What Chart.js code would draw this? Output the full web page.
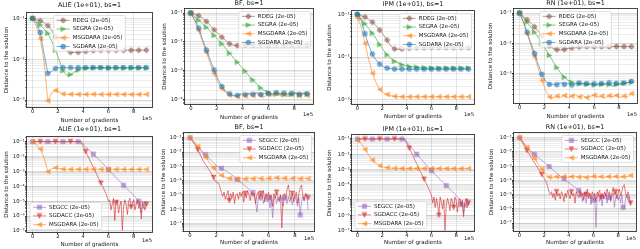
<!DOCTYPE html>
<html><head><meta charset="utf-8">
<script src="https://cdn.jsdelivr.net/npm/chart.js@4.4.1/dist/chart.umd.min.js"></script>
<style>
html,body{margin:0;padding:0;background:#fff;width:640px;height:249px;overflow:hidden;position:relative;}
.cell{position:absolute;}
canvas{display:block;}
</style></head><body>
<script>
// ---------- x grids (units of 1e5 gradients) ----------
const X_TOP = [0,0.3,0.6,0.9,1.2,1.5,1.8,2.1,2.4,2.7,3.0,3.3,3.6,3.9,4.2,4.5,4.8,5.1,5.4,5.7,6.0,6.3,6.6,6.9,7.2,7.5,7.8,8.1,8.4,8.7,9.0];
const X_BOT = [0,0.1,0.2,0.3,0.4,0.5,0.6,0.7,0.8,0.9,1,1.1,1.2,1.3,1.4,1.5,1.6,1.7,1.8,1.9,2,2.1,2.2,2.3,2.4,2.5,2.6,2.7,2.8,2.9,3,3.1,3.2,3.3,3.4,3.5,3.6,3.7,3.8,3.9,4,4.1,4.2,4.3,4.4,4.5,4.6,4.7,4.8,4.9,5,5.1,5.2,5.3,5.4,5.5,5.6,5.7,5.8,5.9,6,6.1,6.2,6.3,6.4,6.5,6.6,6.7,6.8,6.9,7,7.1,7.2,7.3,7.4,7.5,7.6,7.7,7.8,7.9,8,8.1,8.2,8.3,8.4,8.5,8.6,8.7,8.8,8.9,9];
const X_TICKS = [0,2,4,6,8];

// ---------- top row: ALIE ----------
const ALIE_RDEG = [0.1,0.093,0.087,0.078,0.066,0.051,0.035,0.025,0.019,0.016,0.0148,0.0148,0.0148,0.0151,0.0155,0.0158,0.0162,0.0162,0.0166,0.0166,0.0166,0.0166,0.0166,0.0166,0.0165,0.0166,0.0166,0.0166,0.0166,0.0166,0.0167];
const ALIE_SEGRA = [0.1,0.083,0.069,0.055,0.043,0.028,0.0166,0.0095,0.0052,0.004,0.0042,0.0048,0.0054,0.0058,0.006,0.0061,0.0061,0.0061,0.0062,0.0061,0.0061,0.0062,0.0061,0.0061,0.0061,0.0062,0.0061,0.0061,0.0061,0.0062,0.0061];
const ALIE_MSGDARA = [0.1,0.063,0.032,0.0089,0.00095,0.0015,0.00174,0.00158,0.00141,0.00138,0.00139,0.00138,0.00138,0.00137,0.00138,0.00138,0.00139,0.00138,0.00138,0.00137,0.00138,0.00138,0.00138,0.00139,0.00138,0.00138,0.00137,0.00138,0.00138,0.00138,0.00138];
const ALIE_SGDARA = [0.1,0.076,0.045,0.0138,0.0045,0.005,0.0059,0.0063,0.0062,0.0062,0.0062,0.0061,0.0062,0.0062,0.0062,0.0061,0.0062,0.0062,0.0062,0.0062,0.0061,0.0062,0.0062,0.0062,0.0062,0.0061,0.0062,0.0062,0.0062,0.0062,0.0062];
// ---------- top row: BF ----------
const BF_RDEG = [0.1,0.091,0.081,0.066,0.051,0.037,0.026,0.0195,0.0145,0.011,0.0085,0.0076,0.0074,0.0078,0.0079,0.008,0.0079,0.008,0.0081,0.008,0.0079,0.008,0.008,0.0081,0.008,0.0079,0.008,0.008,0.0081,0.008,0.008];
const BF_SEGRA = [0.1,0.074,0.056,0.043,0.032,0.023,0.0166,0.012,0.0085,0.0059,0.004,0.00275,0.00195,0.00135,0.00095,0.00066,0.00047,0.00034,0.00025,0.0002,0.000174,0.000158,0.000151,0.000158,0.000145,0.000162,0.000148,0.000158,0.000141,0.000166,0.000151];
const BF_MSGDARA = [0.1,0.054,0.025,0.01,0.0043,0.0018,0.00079,0.00038,0.000234,0.00017,0.000141,0.000132,0.000126,0.000145,0.000132,0.000151,0.000135,0.000158,0.000138,0.000126,0.000148,0.000132,0.000158,0.000138,0.000148,0.000126,0.000145,0.000158,0.000135,0.000148,0.000138];
const BF_SGDARA = [0.1,0.06,0.03,0.0126,0.0052,0.00234,0.00105,0.0005,0.00028,0.00019,0.000155,0.000138,0.000138,0.000158,0.000145,0.000166,0.000151,0.000174,0.000148,0.000162,0.000158,0.000145,0.00017,0.000151,0.000166,0.000141,0.000162,0.000174,0.000151,0.000166,0.000158];
// ---------- top row: IPM ----------
const IPM_RDEG = [0.1,0.093,0.087,0.076,0.066,0.054,0.043,0.033,0.025,0.018,0.0155,0.0151,0.0155,0.0158,0.0162,0.0162,0.0166,0.0166,0.0165,0.0166,0.0166,0.0166,0.0167,0.0166,0.0166,0.0166,0.0165,0.0166,0.0166,0.0166,0.0166];
const IPM_SEGRA = [0.1,0.079,0.06,0.047,0.036,0.027,0.0195,0.0145,0.0112,0.0093,0.0079,0.0072,0.0066,0.0063,0.006,0.0059,0.0058,0.0056,0.0056,0.0055,0.0055,0.0055,0.0055,0.0055,0.0055,0.0055,0.0055,0.0055,0.0055,0.0055,0.0055];
const IPM_MSGDARA = [0.083,0.05,0.021,0.0089,0.0042,0.0025,0.00174,0.00145,0.00132,0.00123,0.0012,0.00117,0.00117,0.00117,0.00117,0.00117,0.00117,0.00117,0.00117,0.00117,0.00117,0.00117,0.00117,0.00117,0.00117,0.00117,0.00117,0.00117,0.00117,0.00117,0.00117];
const IPM_SGDARA = [0.1,0.072,0.035,0.019,0.0117,0.0085,0.0068,0.0059,0.0055,0.0054,0.0052,0.0052,0.0052,0.0052,0.0052,0.0052,0.0052,0.0052,0.0052,0.0052,0.0052,0.0052,0.0052,0.0052,0.0052,0.0052,0.0052,0.0052,0.0052,0.0052,0.0052];
// ---------- top row: RN ----------
const RN_RDEG = [0.1,0.079,0.06,0.047,0.035,0.025,0.018,0.0123,0.0083,0.0068,0.0062,0.006,0.0063,0.0068,0.0071,0.0074,0.0076,0.0078,0.0078,0.0078,0.0078,0.0079,0.0078,0.0078,0.0078,0.0078,0.0079,0.0078,0.0078,0.0078,0.0078];
const RN_SEGRA = [0.1,0.071,0.05,0.035,0.0234,0.0155,0.01,0.0063,0.004,0.0025,0.00158,0.00105,0.00076,0.0006,0.00052,0.00048,0.00046,0.00048,0.00044,0.00047,0.00042,0.00046,0.00044,0.00047,0.00043,0.00038,0.00044,0.00046,0.00048,0.0005,0.00052];
const RN_MSGDARA = [0.1,0.05,0.021,0.0087,0.0036,0.00148,0.0006,0.000275,0.00017,0.000158,0.000182,0.000166,0.00019,0.000162,0.000182,0.0002,0.00017,0.000186,0.000162,0.000178,0.000195,0.000166,0.000182,0.000158,0.000186,0.00017,0.00019,0.000162,0.000182,0.000174,0.00022];
const RN_SGDARA = [0.1,0.052,0.0234,0.0105,0.0046,0.002,0.00095,0.00056,0.00044,0.00045,0.00043,0.0005,0.00044,0.00048,0.00042,0.00045,0.00049,0.00044,0.00047,0.00043,0.00046,0.00042,0.00047,0.00044,0.0005,0.00045,0.00048,0.00044,0.00049,0.0005,0.00055];

// ---------- bottom row: ALIE ----------
const ALIE_SEGCC = [0.1,0.1,0.1,0.1,0.1,0.1,0.1,0.1,0.1,0.1,
 0.1,0.1,0.1,0.1,0.1,0.1,0.1,0.1,0.1,0.1,
 0.1,0.1,0.1,0.1,0.1,0.1,0.1,0.1,0.1,0.1,
 0.1,0.1,0.1,0.1,0.1,0.1,0.1,0.1,0.1,0.083,
 0.068,0.055,0.046,0.037,0.031,0.025,0.021,0.0174,0.0145,0.0117,
 0.0098,0.0081,0.0068,0.0056,0.0046,0.0037,0.003,0.0025,0.002,0.00162,
 0.00132,0.00107,0.00087,0.00071,0.00058,0.00047,0.00038,0.00032,0.00026,0.00021,
 0.000174,0.000145,0.000117,9.8e-5,7.9e-5,6.6e-5,5.4e-5,4.5e-5,3.6e-5,3.0e-5,
 2.5e-5,2.0e-5,1.66e-5,1.35e-5,1.0e-5,5.0e-6,1.6e-6,6.3e-6,3.2e-6,1.0e-5,
 5.0e-6];
const ALIE_SGDACC = [0.1,0.1,0.1,0.1,0.1,0.1,0.1,0.1,0.1,0.1,
 0.1,0.1,0.1,0.1,0.1,0.1,0.1,0.1,0.1,0.1,
 0.1,0.1,0.1,0.1,0.1,0.1,0.1,0.1,0.1,0.1,
 0.1,0.1,0.1,0.1,0.1,0.1,0.1,0.1,0.1,0.071,
 0.047,0.032,0.021,0.0141,0.0095,0.0063,0.0042,0.0028,0.0019,0.00126,
 0.00083,0.00056,0.00038,0.00025,0.000166,0.000112,7.6e-5,5.0e-5,3.2e-5,1.78e-5,
 1.0e-5,1.26e-5,2.5e-6,6.3e-6,1.58e-5,5.0e-7,7.9e-6,1.26e-5,1.58e-6,5.0e-6,
 1.0e-5,1.12e-7,4.0e-6,1.26e-5,6.3e-6,1.26e-6,1.0e-5,1.58e-5,4.0e-6,7.9e-6,
 1.26e-5,2.5e-6,6.3e-6,1.26e-5,3.2e-6,7.9e-6,6.3e-7,1.0e-5,5.0e-6,2.5e-6,
 6.3e-6];
// ---------- bottom row: BF ----------
const BF_SEGCC = [0.1,0.079,0.063,0.05,0.04,0.032,0.025,0.02,0.0158,0.0126,
 0.01,0.0079,0.0063,0.005,0.0041,0.0033,0.0027,0.0022,0.00178,0.00145,
 0.00117,0.00102,0.00091,0.00081,0.00072,0.00065,0.00056,0.0005,0.00044,0.00038,
 0.00033,0.00029,0.000245,0.00021,0.000174,0.000145,0.000123,0.000105,8.7e-5,7.4e-5,
 6.2e-5,5.2e-5,4.4e-5,3.6e-5,3.0e-5,2.5e-5,2.1e-5,1.78e-5,1.48e-5,1.26e-5,
 3.2e-6,6.3e-7,5.0e-6,1.0e-5,4.0e-6,7.9e-6,2.5e-6,6.3e-6,1.0e-5,3.2e-6,
 6.3e-6,1.26e-6,5.0e-6,2.5e-7,4.0e-6,7.9e-6,2.5e-6,6.3e-6,3.2e-6,1.0e-5,
 4.0e-6,1.58e-6,6.3e-6,5.0e-6,2.5e-6,7.9e-6,3.2e-6,6.3e-6,2.0e-6,5.0e-6,
 1.0e-5,4.0e-6,1.58e-6,6.3e-6,4.0e-7,3.2e-6,7.9e-6,4.0e-6,1.0e-5,1.26e-5,
 1.0e-6];
const BF_SGDACC = [0.1,0.074,0.055,0.041,0.03,0.022,0.0145,0.0093,0.006,0.0039,
 0.0025,0.00182,0.00132,0.00095,0.00069,0.0005,0.00035,0.00024,0.000166,0.000115,
 7.9e-5,7.1e-5,6.3e-5,3.2e-5,1.41e-5,7.9e-6,1.58e-5,5.0e-6,1.0e-5,2.0e-5,
 4.0e-6,1.26e-5,6.3e-6,1.58e-5,2.5e-6,1.0e-5,1.26e-5,5.0e-6,1.58e-5,7.9e-6,
 1.58e-5,3.2e-6,1.26e-5,6.3e-6,2.0e-5,1.0e-5,4.0e-6,1.58e-5,7.9e-6,1.26e-5,
 2.5e-6,1.0e-5,1.58e-5,5.0e-6,1.26e-5,6.3e-6,2.0e-5,3.2e-6,1.26e-5,7.9e-6,
 1.58e-5,5.0e-6,1.0e-5,1.58e-6,1.26e-5,6.3e-6,1.58e-5,7.9e-6,4.0e-6,1.0e-5,
 5.0e-8,7.9e-6,1.26e-5,6.3e-6,2.5e-5,5.0e-5,1.0e-5,5.0e-6,1.26e-5,3.2e-6,
 1.0e-5,1.58e-5,2.5e-6,1.26e-5,3.2e-5,5.0e-5,1.0e-5,4.0e-6,1.26e-5,7.9e-6,
 6.3e-6];
// ---------- bottom row: IPM ----------
const IPM_SEGCC = [0.1,0.1,0.1,0.1,0.1,0.1,0.1,0.1,0.1,0.1,
 0.1,0.1,0.1,0.1,0.1,0.1,0.1,0.1,0.1,0.1,
 0.1,0.1,0.1,0.1,0.1,0.1,0.1,0.1,0.1,0.1,
 0.1,0.1,0.1,0.1,0.1,0.1,0.1,0.1,0.1,0.079,
 0.063,0.05,0.04,0.032,0.025,0.02,0.0158,0.0126,0.01,0.0081,
 0.0066,0.0054,0.0044,0.0035,0.0029,0.0023,0.0019,0.00155,0.00126,0.00102,
 0.00083,0.00068,0.00055,0.00046,0.00038,0.00032,0.00026,0.00022,0.000182,0.000151,
 0.000126,0.000105,8.7e-5,7.2e-5,6.0e-5,5.0e-5,4.2e-5,3.5e-5,2.9e-5,2.4e-5,
 2.0e-5,1.58e-5,1.26e-5,1.0e-5,5.0e-6,7.9e-6,1.26e-6,6.3e-6,3.2e-6,1.26e-5,
 5.0e-6];
const IPM_SGDACC = [0.1,0.1,0.1,0.1,0.1,0.1,0.1,0.1,0.1,0.1,
 0.1,0.1,0.1,0.1,0.1,0.1,0.1,0.1,0.1,0.1,
 0.1,0.1,0.1,0.1,0.1,0.1,0.1,0.1,0.1,0.1,
 0.1,0.1,0.1,0.1,0.1,0.1,0.1,0.1,0.1,0.071,
 0.05,0.035,0.025,0.0178,0.012,0.0079,0.0052,0.0035,0.0024,0.00158,
 0.00107,0.00072,0.0005,0.00034,0.00023,0.000158,0.000107,7.2e-5,5.0e-5,3.2e-5,
 2.0e-5,6.3e-6,1.58e-5,3.2e-6,1.26e-5,5.0e-6,1.0e-6,1.58e-5,7.9e-6,2.5e-6,
 1.0e-5,1.0e-7,5.0e-6,1.26e-5,6.3e-6,2.0e-6,1.26e-5,7.9e-6,3.2e-6,1.58e-5,
 1.0e-5,1.58e-6,7.9e-6,1.26e-5,4.0e-6,1.0e-5,7.9e-7,6.3e-6,1.26e-5,3.2e-6,
 6.3e-6];
// ---------- bottom row: RN ----------
const RN_SEGCC = [0.1,0.076,0.059,0.045,0.035,0.026,0.02,0.0166,0.0138,0.0117,
 0.01,0.0083,0.0069,0.0059,0.0049,0.0042,0.0035,0.003,0.0026,0.0022,
 0.00186,0.00158,0.00135,0.00112,0.00095,0.00079,0.00068,0.00056,0.00047,0.0004,
 0.00033,0.00028,0.00024,0.0002,0.000174,0.000148,0.000129,0.00011,9.3e-5,7.9e-5,
 6.8e-5,5.9e-5,5.0e-5,4.4e-5,3.8e-5,3.2e-5,2.7e-5,2.3e-5,2.0e-5,6.3e-6,
 1.58e-5,3.2e-6,1.26e-5,7.9e-6,2.5e-6,1.0e-5,5.0e-6,1.26e-5,2.0e-6,7.9e-6,
 4.0e-6,1.0e-5,5.0e-8,6.3e-6,1.26e-5,3.2e-6,7.9e-6,1.58e-6,1.0e-5,5.0e-6,
 1.26e-5,2.5e-6,6.3e-6,1.0e-5,3.2e-6,7.9e-6,1.26e-5,1.26e-6,6.3e-6,1.0e-5,
 4.0e-6,7.9e-6,2.5e-6,1.0e-5,1.26e-6,1.0e-6,5.0e-6,1.0e-5,4.0e-6,7.9e-6,
 2.5e-6];
const RN_SGDACC = [0.1,0.071,0.05,0.035,0.025,0.0174,0.0126,0.0091,0.0066,0.0048,
 0.0035,0.0025,0.00182,0.00132,0.00095,0.00069,0.0005,0.00036,0.00026,0.000191,
 0.000138,0.0001,6.3e-5,3.2e-5,1.41e-5,1.0e-5,1.58e-5,6.3e-6,1.26e-5,4.0e-6,
 1.58e-5,7.9e-6,1.26e-5,5.0e-6,1.58e-5,1.0e-5,3.2e-6,1.26e-5,6.3e-6,2.0e-5,
 1.0e-5,5.0e-6,1.58e-5,7.9e-6,1.26e-5,2.5e-6,1.58e-5,1.0e-5,6.3e-6,2.0e-5,
 7.9e-6,1.26e-5,4.0e-6,1.58e-5,1.0e-5,2.5e-5,6.3e-6,1.26e-5,5.0e-6,1.58e-5,
 7.9e-6,1.26e-5,3.2e-6,1.58e-5,1.0e-5,2.0e-5,6.3e-6,1.26e-5,5.0e-6,1.58e-5,
 7.9e-6,2.5e-5,1.0e-5,1.58e-5,4.0e-6,1.26e-5,3.2e-5,1.0e-5,1.58e-5,5.0e-6,
 1.26e-5,2.5e-5,7.9e-6,1.58e-5,4.0e-5,5.0e-5,1.26e-5,6.3e-6,1.58e-5,5.0e-6,
 2.5e-6];

// ---------- panel definitions ----------
const STEP_LABEL = ' (2e-05)';
const PANELS = [
 {title:'ALIE (1e+01), bs=1', frame:[27,13,152,107], yMin:6.76e-4, yMax:0.135, legend:'uc', tOff:7.7, yOff:20, xlOff:13.8, offOff:11.5,
  series:[['RDEG',X_TOP,ALIE_RDEG],['SEGRA',X_TOP,ALIE_SEGRA],['MSGDARA',X_TOP,ALIE_MSGDARA],['SGDARA',X_TOP,ALIE_SGDARA]]},
 {title:'BF, bs=1', frame:[185,9,313,104], yMin:6.9e-5, yMax:0.138, legend:'ur', tOff:5.3, yOff:20.7, xlOff:13.3, offOff:11,
  series:[['RDEG',X_TOP,BF_RDEG],['SEGRA',X_TOP,BF_SEGRA],['MSGDARA',X_TOP,BF_MSGDARA],['SGDARA',X_TOP,BF_SGDARA]]},
 {title:'IPM (1e+01), bs=1', frame:[352,11,474,104], yMin:7.9e-4, yMax:0.12, legend:'ur', tOff:6.7, yOff:22.4, xlOff:13, offOff:11,
  series:[['RDEG',X_TOP,IPM_RDEG],['SEGRA',X_TOP,IPM_SEGRA],['MSGDARA',X_TOP,IPM_MSGDARA],['SGDARA',X_TOP,IPM_SGDARA]]},
 {title:'RN (1e+01), bs=1', frame:[514,9,637,103], yMin:1.07e-4, yMax:0.136, legend:'uc', tOff:5.3, yOff:23, xlOff:13.6, offOff:11.8,
  series:[['RDEG',X_TOP,RN_RDEG],['SEGRA',X_TOP,RN_SEGRA],['MSGDARA',X_TOP,RN_MSGDARA],['SGDARA',X_TOP,RN_SGDARA]]},
 {title:'ALIE (1e+01), bs=1', frame:[27,137,152,232], yMin:8.5e-8, yMax:0.204, legend:'ll', tOff:7.7, yOff:20, xlOff:12.5, offOff:8.5,
  series:[['SEGCC',X_BOT,ALIE_SEGCC],['SGDACC',X_BOT,ALIE_SGDACC],['MSGDARA',X_TOP,ALIE_MSGDARA]]},
 {title:'BF, bs=1', frame:[184,133,314,231], yMin:3.0e-8, yMax:0.214, legend:'ur', tOff:5.3, yOff:20, xlOff:12, offOff:8,
  series:[['SEGCC',X_BOT,BF_SEGCC],['SGDACC',X_BOT,BF_SGDACC],['MSGDARA',X_TOP,BF_MSGDARA]]},
 {title:'IPM (1e+01), bs=1', frame:[352,135,474,231], yMin:9.1e-8, yMax:0.182, legend:'ll', tOff:6, yOff:22.4, xlOff:12, offOff:8,
  series:[['SEGCC',X_BOT,IPM_SEGCC],['SGDACC',X_BOT,IPM_SGDACC],['MSGDARA',X_TOP,IPM_MSGDARA]]},
 {title:'RN (1e+01), bs=1', frame:[514,133,636,231], yMin:2.75e-8, yMax:0.214, legend:'ur', tOff:5.3, yOff:22.6, xlOff:12, offOff:8,
  series:[['SEGCC',X_BOT,RN_SEGCC],['SGDACC',X_BOT,RN_SGDACC],['MSGDARA',X_TOP,RN_MSGDARA]]}
];
// marker spacing (in data points) and first marker index per series name, by x grid
const STYLE = {
 RDEG:{color:'#8c564b', shape:'P'},
 SEGRA:{color:'#2ca02c', shape:'>'},
 MSGDARA:{color:'#ff7f0e', shape:'<'},
 SGDARA:{color:'#1f77b4', shape:'o'},
 SEGCC:{color:'#9467bd', shape:'s'},
 SGDACC:{color:'#d62728', shape:'v'}
};
const MARK_EVERY = {top:2, bottom:12};
const MARK_START = {SEGCC:0, SGDACC:6};

// ---------- helpers ----------
const FONT = 'DejaVu Sans';
const ALPHA = 0.6;
const TXT = '#111';
const SUPS = {'-':'\u207B','0':'\u2070','1':'\u00B9','2':'\u00B2','3':'\u00B3','4':'\u2074','5':'\u2075','6':'\u2076','7':'\u2077','8':'\u2078','9':'\u2079'};
function sup(n){ return String(n).split('').map(c=>SUPS[c]).join(''); }
function isPow10(v){ const e=Math.round(Math.log10(v)); return Math.abs(v/Math.pow(10,e)-1)<1e-6; }
function rgba(hex,a){ const n=parseInt(hex.slice(1),16); return 'rgba('+(n>>16)+','+((n>>8)&255)+','+(n&255)+','+a+')'; }
function logTicks(min,max){
  const out=[];
  for(let e=Math.floor(Math.log10(min)); e<=Math.ceil(Math.log10(max)); e++){
    for(let m=1;m<=9;m++){ const v=m*Math.pow(10,e); if(v>=min && v<=max) out.push({value:v, major:m===1}); }
  }
  return out;
}
const markerCache = {};
function marker(shape,color){
  const key=shape+color; if(markerCache[key]) return markerCache[key];
  const S=7, c=document.createElement('canvas'); c.width=S; c.height=S;
  const g=c.getContext('2d'); g.translate(S/2,S/2);
  g.fillStyle=rgba(color,ALPHA); g.strokeStyle=rgba(color,ALPHA); g.lineWidth=0.6;
  const r=2.4; g.beginPath();
  if(shape==='o'){ g.arc(0,0,r,0,Math.PI*2); }
  else if(shape==='s'){ g.rect(-r*0.9,-r*0.9,r*1.8,r*1.8); }
  else if(shape==='>'){ g.moveTo(r,0); g.lineTo(-r,-r); g.lineTo(-r,r); g.closePath(); }
  else if(shape==='<'){ g.moveTo(-r,0); g.lineTo(r,-r); g.lineTo(r,r); g.closePath(); }
  else if(shape==='v'){ g.moveTo(0,r); g.lineTo(-r,-r); g.lineTo(r,-r); g.closePath(); }
  else if(shape==='P'){ const a=r, b=r*0.38;
    g.moveTo(-b,-a); g.lineTo(b,-a); g.lineTo(b,-b); g.lineTo(a,-b); g.lineTo(a,b); g.lineTo(b,b);
    g.lineTo(b,a); g.lineTo(-b,a); g.lineTo(-b,b); g.lineTo(-a,b); g.lineTo(-a,-b); g.lineTo(-b,-b); g.closePath(); }
  g.fill(); g.stroke();
  markerCache[key]=c; return c;
}

const decorPlugin = {
  id:'decor',
  afterDraw(chart){
    const p = chart.$panel; const ctx=chart.ctx; const a=chart.chartArea;
    ctx.save();
    ctx.strokeStyle='#333'; ctx.lineWidth=0.9;
    ctx.strokeRect(a.left-0.5,a.top-0.5,a.right-a.left+1,a.bottom-a.top+1);
    ctx.fillStyle=TXT; ctx.font='5.3px "'+FONT+'"'; ctx.textAlign='right'; ctx.textBaseline='middle';
    ctx.fillText('1e5', a.right, a.bottom+p.offOff);
    const items=p.series.map(s=>({label:s[0]+STEP_LABEL, color:STYLE[s[0]].color, shape:STYLE[s[0]].shape}));
    ctx.font='5.5px "'+FONT+'"';
    const tw=Math.max(...items.map(i=>ctx.measureText(i.label).width));
    const rowH=8.7, w=19+tw+3, h=items.length*rowH+1;
    let x,y;
    if(p.legend==='ur'){ x=a.right-2.5-w; y=a.top+2.5; }
    else if(p.legend==='uc'){ x=(a.left+a.right)/2-w/2; y=a.top+2.5; }
    else { x=a.left+3; y=a.bottom-2.5-h; }
    ctx.beginPath();
    if(ctx.roundRect) ctx.roundRect(x,y,w,h,1.5); else ctx.rect(x,y,w,h);
    ctx.fillStyle='rgba(255,255,255,0.8)'; ctx.fill();
    ctx.strokeStyle='#cccccc'; ctx.lineWidth=0.6; ctx.stroke();
    items.forEach((it,i)=>{
      const cy=y+0.5+rowH*(i+0.5);
      ctx.strokeStyle=rgba(it.color,ALPHA); ctx.lineWidth=1;
      ctx.beginPath(); ctx.moveTo(x+3,cy); ctx.lineTo(x+16,cy); ctx.stroke();
      const m=marker(it.shape,it.color); ctx.drawImage(m,x+9.5-m.width/2,cy-m.height/2);
      ctx.fillStyle=TXT; ctx.textAlign='left'; ctx.textBaseline='middle';
      ctx.fillText(it.label,x+19,cy);
    });
    ctx.restore();
  }
};

const YW=26, XH=17, PR=3;
const GRID_MAJ='rgba(0,0,0,0.14)', GRID_MIN='rgba(0,0,0,0.07)';

PANELS.forEach(p=>{
  const [fl,ft,fr,fb]=p.frame;
  const TT=Math.ceil(p.tOff+3.5);
  const tpt=TT-p.tOff-3.2, tpb=p.tOff-3.2;
  const left=fl-YW, top=ft-TT, w=fr-fl+YW+PR, h=fb-ft+TT+XH;
  const div=document.createElement('div'); div.className='cell';
  div.style.left=left+'px'; div.style.top=top+'px'; div.style.width=w+'px'; div.style.height=h+'px';
  const cv=document.createElement('canvas'); cv.width=w; cv.height=h; cv.style.width=w+'px'; cv.style.height=h+'px';
  div.appendChild(cv); document.body.appendChild(div);
  const n=p.series.length;
  const datasets=p.series.map((s,i)=>{
    const st=STYLE[s[0]];
    const every = s[1]===X_TOP ? MARK_EVERY.top : MARK_EVERY.bottom;
    const start = s[1]===X_TOP ? 0 : (MARK_START[s[0]]||0);
    return {
      label:s[0]+STEP_LABEL,
      data:s[1].map((xv,j)=>({x:xv,y:s[2][j]})),
      borderColor:rgba(st.color,ALPHA), backgroundColor:rgba(st.color,ALPHA),
      borderWidth:1, tension:0, fill:false,
      pointStyle:marker(st.shape,st.color),
      pointRadius:(c)=> ((c.dataIndex-start)%every===0 && c.dataIndex>=start ? 3 : 0),
      pointHoverRadius:0, pointBorderWidth:0,
      order:n-i
    };
  });
  new Chart(cv,{
    type:'line',
    data:{datasets},
    options:{
      responsive:false, animation:false, devicePixelRatio:1, events:[],
      layout:{padding:{left:0,right:PR,top:0,bottom:0}},
      plugins:{
        legend:{display:false}, tooltip:{enabled:false},
        title:{display:true, fullSize:false, text:p.title, color:TXT, font:{family:FONT,size:6.4,lineHeight:1,weight:'normal'}, padding:{top:tpt,bottom:tpb}}
      },
      scales:{
        x:{type:'linear', min:-0.45, max:9.45, bounds:'data',
          afterBuildTicks(s){ s.ticks=X_TICKS.map(v=>({value:v})); },
          afterFit(s){ s.height=XH; },
          ticks:{autoSkip:false, maxRotation:0, padding:-0.2, color:TXT, font:{family:FONT,size:5.3,lineHeight:1}, callback:(v)=>String(v)},
          grid:{color:'rgba(0,0,0,0.1)', lineWidth:1, drawTicks:true, tickLength:2, tickColor:'#333'},
          border:{display:false},
          title:{display:true, text:'Number of gradients', color:TXT, font:{family:FONT,size:5.6,lineHeight:1}, padding:{top:0,bottom:XH-2.8-p.xlOff}}
        },
        y:{type:'logarithmic', min:p.yMin, max:p.yMax, bounds:'data',
          afterBuildTicks(s){ s.ticks=logTicks(p.yMin,p.yMax); },
          afterFit(s){ s.width=YW; },
          ticks:{autoSkip:false, padding:0.5, color:TXT, font:{family:FONT,size:5.3,lineHeight:1},
            callback:(v)=> isPow10(v) ? '10'+sup(Math.round(Math.log10(v))) : ''},
          grid:{color:(c)=> (c.tick && isPow10(c.tick.value)) ? GRID_MAJ : GRID_MIN, lineWidth:1, drawTicks:true, tickLength:2,
            tickColor:(c)=> (c.tick && isPow10(c.tick.value)) ? '#333' : 'rgba(0,0,0,0.45)'},
          border:{display:false},
          title:{display:true, text:'Distance to the solution', color:TXT, font:{family:FONT,size:5.6,lineHeight:1}, padding:{top:YW-p.yOff-2.8,bottom:0}}
        }
      }
    },
    plugins:[{id:'panelRef', beforeInit(c){ c.$panel=p; }}, decorPlugin]
  });
});
</script>
</body></html>
